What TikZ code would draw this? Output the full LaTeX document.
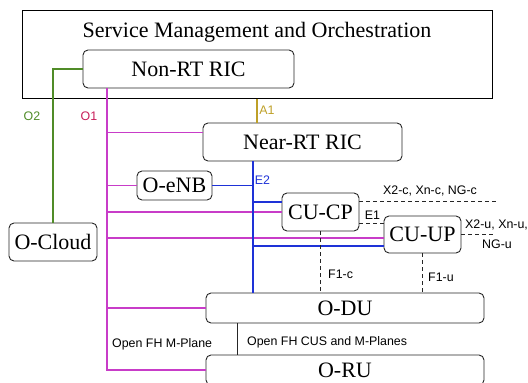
\documentclass[tikz,border=0pt]{standalone}
\usepackage{fontspec}
\setmainfont{Liberation Serif}
\newfontfamily\boxfont{Liberation Serif}
\newfontfamily\lblfont{Liberation Sans}
\definecolor{oonec}{RGB}{200,60,200}
\definecolor{eblue}{RGB}{30,50,215}
\definecolor{otwoc}{RGB}{80,140,40}
\definecolor{aonec}{RGB}{190,160,40}
\definecolor{oonelbl}{RGB}{200,30,90}
\begin{document}
\begin{tikzpicture}[x=1pt,y=-1pt,
  box/.style={draw=black!85,line width=0.9pt,rounded corners=5pt,inner sep=0pt,
    font=\boxfont\fontsize{22}{24}\selectfont,fill=white},
  lbl/.style={font=\lblfont\fontsize{12.4}{14}\selectfont,inner sep=0pt},
  o1line/.style={draw=oonec,line width=1.1pt},
  e2line/.style={draw=eblue,line width=1.1pt},
  o2line/.style={draw=otwoc,line width=1.1pt},
  a1line/.style={draw=aonec,line width=1.1pt},
  dashln/.style={draw=black!85,line width=0.9pt,dash pattern=on 3.5pt off 3.5pt},
  plainln/.style={draw=black!85,line width=0.9pt}]
\useasboundingbox (0,0) rectangle (528,383);
% nodes
\node[draw=black,line width=1pt,minimum width=470pt,minimum height=88pt,inner sep=0pt] (smo) at (257,54) {};
\node[inner sep=0pt,font=\boxfont\fontsize{22}{24}\selectfont] (smotitle) at (257,32) {Service Management and Orchestration};
\node[box,minimum width=211pt,minimum height=38pt] (nonrt) at (188.5,69) {Non-RT RIC};
\node[box,minimum width=199pt,minimum height=38pt] (nearrt) at (302.5,142) {Near-RT RIC};
\node[box,minimum width=75pt,minimum height=29pt] (oenb) at (174.5,185.5) {O-eNB};
\node[box,minimum width=88pt,minimum height=38pt] (ocloud) at (53,242) {O-Cloud};
\node[box,minimum width=77pt,minimum height=38pt] (cucp) at (320.5,212) {CU-CP};
\node[box,minimum width=77pt,minimum height=37pt] (cuup) at (422.5,234.5) {CU-UP};
\node[box,minimum width=278pt,minimum height=30pt] (odu) at (345,308) {O-DU};
\node[box,minimum width=278pt,minimum height=30pt] (oru) at (345,370) {O-RU};
% helper coordinates
\coordinate (o1x) at (107,0);
\coordinate (e2x) at (253,0);
\coordinate (nrtin) at ([yshift=-10pt]nearrt.north west);
\coordinate (cuupm) at ([yshift=-3.5pt]cuup.west);
\coordinate (cuupb) at ([yshift=-11.5pt]cuup.west);
\coordinate (cucpb) at ([yshift=10pt]cucp.west);
\coordinate (x2c) at ([yshift=11pt]cucp.east);
\coordinate (x2cend) at (498,201);
\coordinate (e1a) at ([yshift=-11pt]cucp.east);
\coordinate (x2u) at (cuup.east);
\coordinate (x2uend) at (493,234.5);
\coordinate (fhx) at (237,0);
% O1 (magenta)
\draw[o1line] (nonrt.south -| o1x) |- (oru.west);
\draw[o1line] (nrtin -| o1x) -- (nrtin);
\draw[o1line] (oenb.west -| o1x) -- (oenb.west);
\draw[o1line] (cucp.west -| o1x) -- (cucp.west);
\draw[o1line] (cuupm -| o1x) -- (cuupm);
\draw[o1line] (odu.west -| o1x) -- (odu.west);
% E2 (blue)
\draw[e2line] (nearrt.south -| e2x) -- (odu.north -| e2x);
\draw[e2line] (oenb.east) -- (oenb.east -| e2x);
\draw[e2line] (cucpb -| e2x) -- (cucpb);
\draw[e2line] (cuupb -| e2x) -- (cuupb);
% O2 (green)
\draw[o2line] (nonrt.west) -| (ocloud.north);
% A1
\draw[a1line] (smo.south) -- (smo.south |- nearrt.north);
% dashed
\draw[dashln] (x2c) -- (x2cend);
\draw[dashln] (e1a) -- (e1a -| cuup.west);
\draw[dashln] (x2u) -- (x2uend);
\draw[dashln] (cucp.south) -- (cucp.south |- odu.north);
\draw[dashln] (cuup.south) -- (cuup.south |- odu.north);
% fronthaul
\draw[plainln] (odu.south -| fhx) -- (oru.north -| fhx);
% labels
\node[lbl,text=otwoc] (lo2) at (32,116) {O2};
\node[lbl,text=oonelbl] (lo1) at (89,116) {O1};
\node[lbl,text=aonec] (la1) at (267,110) {A1};
\node[lbl,text=eblue] (le2) at (262.5,180) {E2};
\node[lbl] (lx2c) at (430,191) {X2-c, Xn-c, NG-c};
\node[lbl] (le1) at (372.5,215) {E1};
\node[lbl,anchor=west] (lx2u) at (465,225) {X2-u, Xn-u,};
\node[lbl,anchor=west] (lngu) at (482,244) {NG-u};
\node[lbl,anchor=west] (lf1c) at (328,274) {F1-c};
\node[lbl,anchor=west] (lf1u) at (428,277) {F1-u};
\node[lbl,anchor=west] (lfhm) at (112,344) {Open FH M-Plane};
\node[lbl,anchor=west] (lfhcus) at (247,342) {Open FH CUS and M-Planes};
\end{tikzpicture}
\end{document}
